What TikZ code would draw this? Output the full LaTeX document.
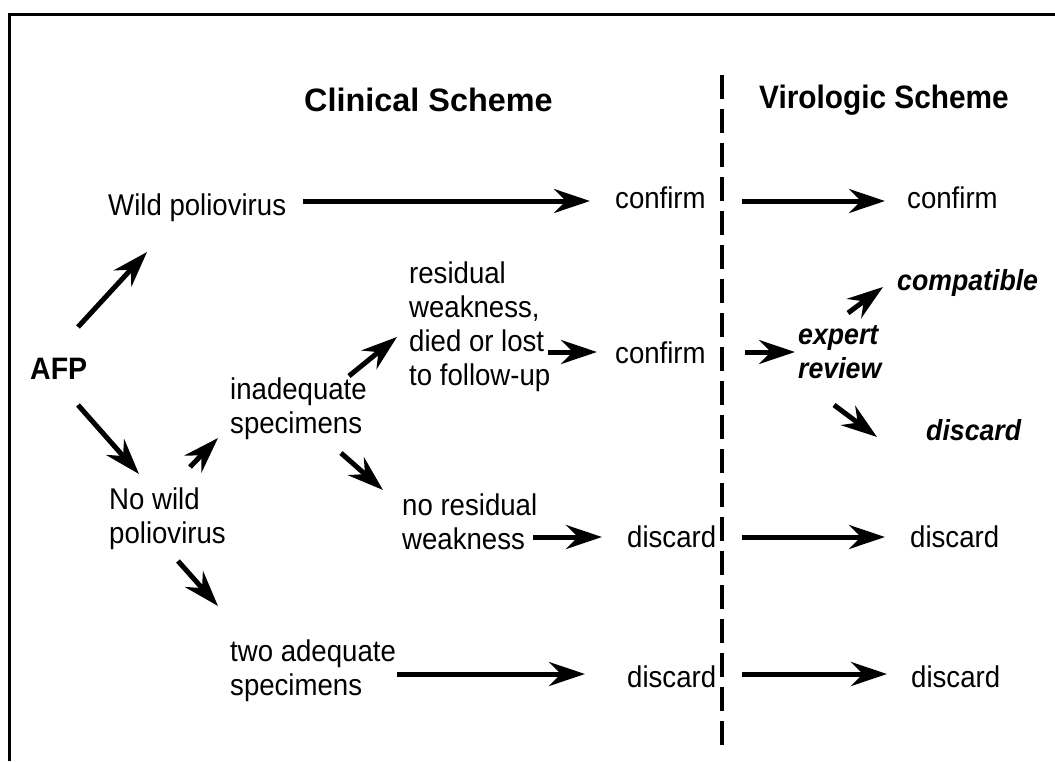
\documentclass[tikz,border=0pt]{standalone}
\usepackage{fontspec}
\setmainfont{Liberation Sans}[FakeStretch=0.92]
\newfontfamily\widesans{Liberation Sans}[FakeStretch=1.0]
\usetikzlibrary{arrows.meta}
\begin{document}
\begin{tikzpicture}[x=1pt,y=-1pt,
  txt/.style={inner sep=0pt,anchor=base west,align=left,font=\fontsize{30}{34}\selectfont},
  bld/.style={txt,font=\fontsize{31}{34}\selectfont\bfseries},
  hdr/.style={txt,font=\fontsize{32.4}{34}\selectfont\bfseries},
  bit/.style={txt,font=\fontsize{29}{34}\selectfont\bfseries\itshape},
  arr/.style={line width=5pt,-{Stealth[length=36pt,width=24pt,inset=12pt]}},
  frame/.style={line width=2.7pt},
  divider/.style={line width=3.3pt,dash pattern=on 24pt off 10pt}]
\useasboundingbox (0,0) rectangle (1055,761);
\draw[frame] (9.7,761) -- (9.7,14.7) -- (1055,14.7);
\coordinate (dtop) at (722,75);
\coordinate (dbot) at (722,745);
\draw[divider] (dtop) -- (dbot);
% nodes (multi-line nodes are anchored at the baseline of their last line)
\node[hdr,font=\fontsize{32.4}{34}\widesans\bfseries] (hclin) at (304,111) {Clinical Scheme};
\node[hdr] (hviro) at (759,108) {Virologic Scheme};
\node[txt] (wild) at (108,215) {Wild poliovirus};
\node[txt] (cconf) at (615,208) {confirm};
\node[txt] (vconf) at (907,208) {confirm};
\node[bld] (afp) at (30,379) {AFP};
\node[txt] (nowild) at (109,543) {No wild\\poliovirus};
\node[txt] (inad) at (230,433) {inadequate\\specimens};
\node[txt] (resid) at (409,385) {residual\\weakness,\\died or lost\\to follow-up};
\node[txt] (mconf) at (615,363) {confirm};
\node[bit] (expert) at (798,378) {expert\\review};
\node[bit] (compat) at (897,290) {compatible};
\node[bit] (vdisc1) at (926,440) {discard};
\node[txt] (nores) at (402,549) {no residual\\weakness};
\node[txt] (cdisc2) at (627,547) {discard};
\node[txt] (vdisc2) at (910,547) {discard};
\node[txt] (two) at (230,695) {two adequate\\specimens};
\node[txt] (cdisc3) at (627,687) {discard};
\node[txt] (vdisc3) at (911,687) {discard};
% connectors
\draw[arr] ([shift={(195,-14)}]wild.base west) -- ([shift={(-25,-7)}]cconf.base west);
\draw[arr] ([shift={(127,-7)}]cconf.base west) -- ([shift={(-22,-7)}]vconf.base west);
\draw[arr] ([shift={(48,-52)}]afp.base west) -- ([shift={(39,37)}]wild.base west);
\draw[arr] ([shift={(48,26)}]afp.base west) -- ([shift={(30,-69)}]nowild.base west);
\draw[arr] ([shift={(81,-76)}]nowild.base west) -- ([shift={(-12,5)}]inad.base west);
\draw[arr] ([shift={(119,-57)}]inad.base west) -- ([shift={(-12,-48)}]resid.base west);
\draw[arr] ([shift={(111,20)}]inad.base west) -- ([shift={(-19,-59)}]nores.base west);
\draw[arr] ([shift={(69,18)}]nowild.base west) -- ([shift={(-12,-89)}]two.base west);
\draw[arr] ([shift={(139,-33)}]resid.base west) -- ([shift={(-18,-11)}]mconf.base west);
\draw[arr] ([shift={(130,-11)}]mconf.base west) -- ([shift={(-3,-26)}]expert.base west);
\draw[arr] ([shift={(50,-65)}]expert.base west) -- ([shift={(-14,-3)}]compat.base west);
\draw[arr] ([shift={(36,27)}]expert.base west) -- ([shift={(-49,-3)}]vdisc1.base west);
\draw[arr] ([shift={(131,-12)}]nores.base west) -- ([shift={(-25,-10)}]cdisc2.base west);
\draw[arr] ([shift={(115,-10)}]cdisc2.base west) -- ([shift={(-25,-10)}]vdisc2.base west);
\draw[arr] ([shift={(167,-21)}]two.base west) -- ([shift={(-42,-13)}]cdisc3.base west);
\draw[arr] ([shift={(115,-13)}]cdisc3.base west) -- ([shift={(-24,-13)}]vdisc3.base west);
\end{tikzpicture}
\end{document}
